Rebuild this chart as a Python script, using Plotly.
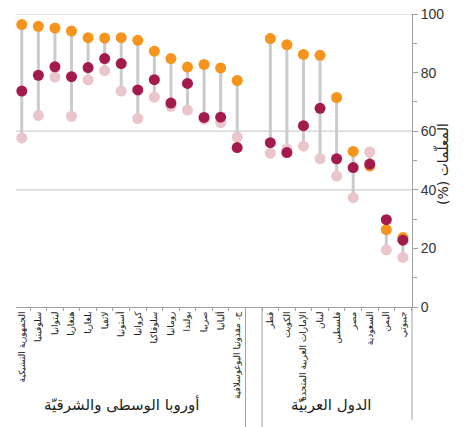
import plotly.graph_objects as go

# ---- data ----
europe = ["الجمهورية التشيكية", "سلوفينيا", "ليتوانيا", "هنغاريا", "بلغاريا", "لاتفيا",
          "أستونيا", "كرواتيا", "سلوفاكيا", "رومانيا", "بولندا", "صربيا", "ألبانيا",
          "ج. مقدونيا اليوغوسلافية"]
arab = ["قطر", "الكويت", "الإمارات العربية المتحدة", "لبنان", "فلسطين", "مصر",
        "السعودية", "اليمن", "جيبوتي"]

europe_orange = [96.4, 95.8, 95.2, 94.2, 91.9, 91.8, 91.9, 91.0, 87.3, 84.8, 81.9, 82.8, 81.6, 77.3]
europe_dark = [73.7, 79.1, 82.0, 78.6, 81.7, 84.8, 83.1, 74.1, 77.6, 69.6, 76.3, 64.7, 64.8, 54.4]
europe_light = [57.7, 65.4, 78.5, 65.1, 77.5, 80.7, 73.7, 64.3, 71.6, 68.5, 67.2, 64.1, 62.9, 58.0]

arab_orange = [91.6, 89.5, 86.2, 85.9, 71.5, 53.1, 48.1, 26.4, 23.7]
arab_dark = [56.1, 52.7, 61.9, 67.8, 50.6, 47.6, 48.8, 29.8, 22.8]
arab_light = [52.5, 53.9, 54.9, 50.6, 44.7, 37.3, 52.9, 19.5, 16.9]

group_names = ["أوروبا الوسطى والشرقيّة", "الدول العربيّة"]
y_ticks = [0, 20, 40, 60, 80, 100]
grid_vals = [40, 60, 100]
y_title = "(%) المعلّمات"

# ---- layout helpers ----
labels = europe + [""] + arab
n = len(labels)
xs_eu = list(range(len(europe)))
gap = len(europe)
xs_ar = [gap + 1 + i for i in range(len(arab))]
xs = xs_eu + xs_ar
orange = europe_orange + arab_orange
dark = europe_dark + arab_dark
light = europe_light + arab_light

ORANGE = "#F7941D"
DARK = "#A31B4C"
LIGHT = "#EAC5CA"

lx, ly = [], []
for x, a, b, c in zip(xs, orange, dark, light):
    lx += [x, x, None]
    ly += [min(a, b, c), max(a, b, c), None]

fig = go.Figure()
fig.add_trace(go.Scatter(x=lx, y=ly, mode="lines", line=dict(color="#CBCBCB", width=3),
                         hoverinfo="skip", showlegend=False, cliponaxis=False))
for vals, col in [(light, LIGHT), (orange, ORANGE), (dark, DARK)]:
    fig.add_trace(go.Scatter(x=xs, y=vals, mode="markers",
                             marker=dict(color=col, size=11, line=dict(width=0)),
                             showlegend=False, cliponaxis=False))

shapes = []
for g in grid_vals:
    shapes.append(dict(type="line", xref="paper", yref="y", x0=0, x1=1, y0=g, y1=g,
                       line=dict(color="#CFCFCF", width=1.2), layer="below"))
# group dividers below the axis
for bx in [gap - 0.5, gap + 0.5]:
    shapes.append(dict(type="line", xref="x", yref="paper", x0=bx, x1=bx, y0=0, y1=-0.41,
                       line=dict(color="#A0A0A0", width=1)))
shapes.append(dict(type="line", xref="paper", yref="paper", x0=1, x1=1, y0=0, y1=-0.385,
                   line=dict(color="#A0A0A0", width=1)))

annotations = [
    dict(x=(xs_eu[0] + xs_eu[-1]) / 2 - 0.5, y=-0.372, xref="x", yref="paper",
         text=group_names[0], showarrow=False, font=dict(size=15, color="#222")),
    dict(x=(xs_ar[0] + xs_ar[-1]) / 2 - 0.3, y=-0.372, xref="x", yref="paper",
         text=group_names[1], showarrow=False, font=dict(size=15, color="#222")),
    dict(x=1.1035, y=0.488, xref="paper", yref="paper", text=y_title, textangle=-90,
         showarrow=False, font=dict(size=14, color="#222")),
]

fig.update_layout(
    width=470, height=427,
    margin=dict(l=16, r=58, t=14, b=120),
    plot_bgcolor="white", paper_bgcolor="white",
    font=dict(family="DejaVu Sans, Noto Sans, sans-serif", color="#333"),
    shapes=shapes, annotations=annotations,
    xaxis=dict(range=[-0.35, n - 1 + 0.55], tickmode="array", tickvals=list(range(n)),
               ticktext=labels, tickangle=-90, tickfont=dict(size=9, color="#222"),
               showgrid=False, zeroline=False, showline=True, linecolor="#A0A0A0",
               linewidth=1, ticks="", automargin=False,
               minor=dict(tickmode="array", tickvals=[i + 0.5 for i in range(-1, n)],
                          ticks="outside", ticklen=3, tickcolor="#A0A0A0", showgrid=False)),
    yaxis=dict(range=[0, 100], side="right", tickvals=y_ticks, showgrid=False,
               zeroline=False, showline=True, linecolor="#A0A0A0", linewidth=1,
               ticks="outside", ticklen=5, tickcolor="#A0A0A0", automargin=False,
               tickfont=dict(family="Liberation Sans, Arial, sans-serif", size=14, color="#333"),
               minor=dict(dtick=10, ticks="outside", ticklen=4, tickcolor="#A0A0A0", showgrid=False)),
)

fig.write_html("out.html", config={"displayModeBar": False},
               post_script="document.body.style.margin='0';")
